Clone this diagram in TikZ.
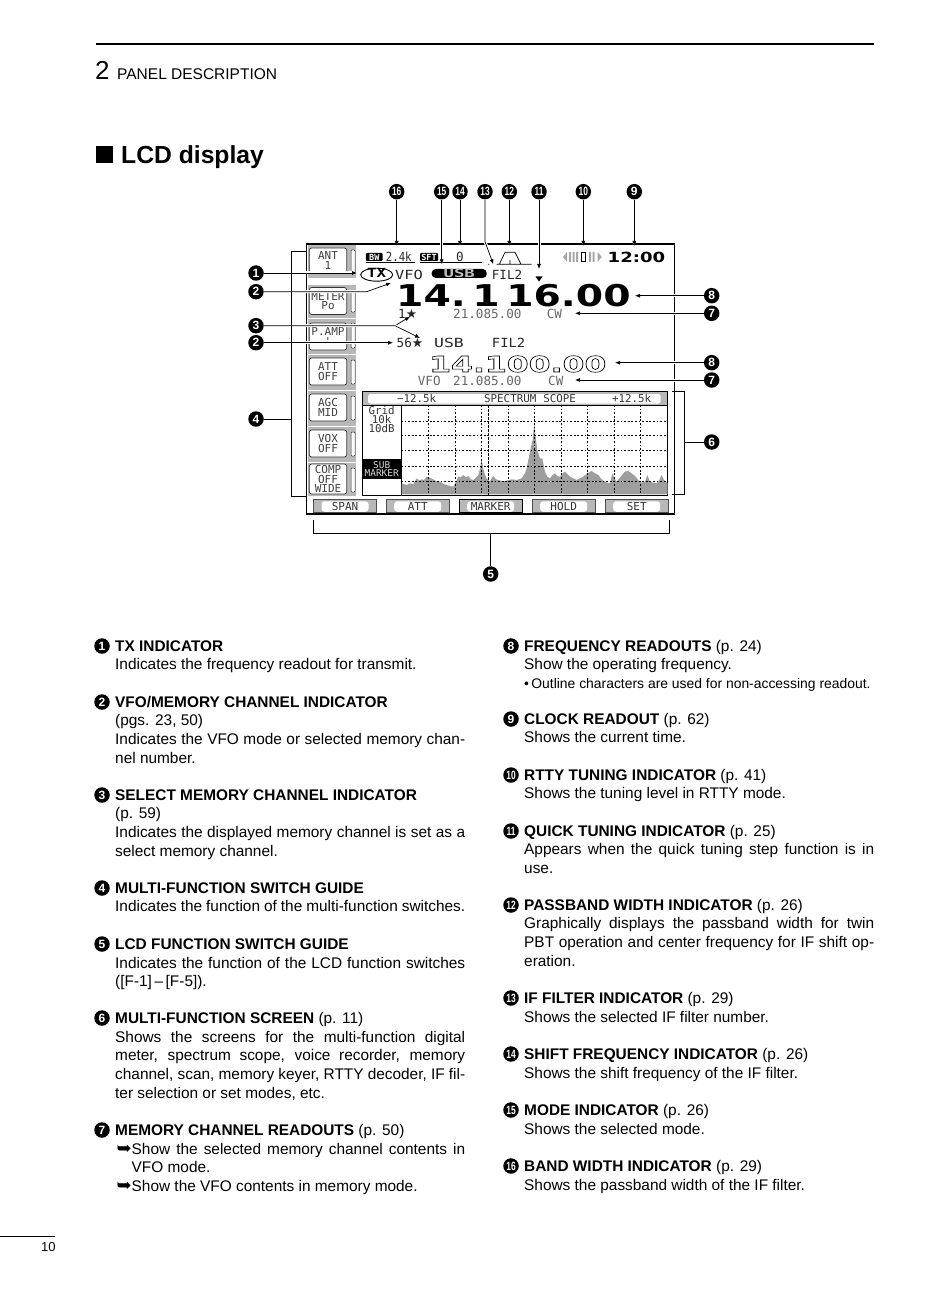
\documentclass[tikz,border=0pt]{standalone}
\usepackage{fontspec}
\setmainfont{Liberation Sans}
\newfontfamily\lcdfont{DejaVu Sans Mono}
\newfontfamily\symfont{DejaVu Sans}
\usetikzlibrary{arrows.meta,shapes.geometric}
\newcommand{\bodysize}{\fontsize{15.4}{18.7}\selectfont}
\newcommand{\hd}[1]{\strut\textbf{#1}}
\newcommand{\outl}[1]{\special{pdf:code 1 Tr 0.55 w}#1\special{pdf:code 0 Tr 1 w}}
\newcommand{\nn}[1]{\scalebox{.7}[1]{#1}}
\newcommand{\hook}{\llap{{\symfont\fontsize{18}{18}\selectfont ➥}}}
\tikzset{
  numdot/.style={circle,fill=black,text=white,inner sep=0pt,minimum size=15.5pt,font=\fontsize{12}{12}\selectfont\bfseries},
  entry/.style={anchor=north west,inner sep=0pt,text width=350pt,align=justify,font=\bodysize},
  leader/.style={draw=black,line width=.7pt,preaction={draw=white,line width=3pt}},
  tip/.style={leader,-{Latex[length=5pt,width=4pt]}},
  softkey/.style={draw=black!80,fill=white,rounded corners=2.5pt,line width=.7pt,minimum width=37.5pt,minimum height=27pt,inner sep=0pt,align=center,text=black!75,font=\lcdfont\fontsize{11}{9.4}\selectfont},
  softback/.style={fill=black!28},
  slot/.style={draw=black!80,fill=white,line width=.5pt,rounded corners=1pt},
  fkey/.style={draw=black!70,fill=black!28,line width=.8pt,minimum width=63pt,minimum height=13.5pt,inner sep=0pt,path picture={\fill[white,rounded corners=3pt] ([xshift=8pt,yshift=-2pt]path picture bounding box.north west) rectangle ([xshift=-8pt,yshift=1pt]path picture bounding box.south east);\node[text=black!80,font=\lcdfont\fontsize{11}{10}\selectfont] at (path picture bounding box.center) {\fkeytext};}},
  lcd/.style={inner sep=0pt,text=black!85,font=\lcdfont\fontsize{12.6}{12.6}\selectfont},
  lcdgray/.style={inner sep=0pt,text=black!60,font=\lcdfont\fontsize{12.6}{12.6}\selectfont},
  tiny/.style={inner sep=0pt,text=black!80,font=\lcdfont\fontsize{10.8}{8.8}\selectfont,align=center},
  griddash/.style={draw=black,line width=.7pt,dash pattern=on 1.8pt off 1.8pt}
}
\newcommand{\fkeytext}{}
\begin{document}
\begin{tikzpicture}[x=1pt,y=-1pt]
\useasboundingbox (0,0) rectangle (950,1305);
\draw[line width=2pt] (96,44)--(874,44);
\node[anchor=base west,inner sep=0pt,font=\fontsize{26}{26}\selectfont] (chapnum) at (95,80) {2};
\node[anchor=base west,inner sep=0pt,font=\fontsize{15.5}{15.5}\selectfont] (chaptitle) at (117,79.5) {PANEL DESCRIPTION};
\fill (96,146) rectangle (113,163);
\node[anchor=base west,inner sep=0pt,font=\fontsize{24.7}{25}\selectfont\bfseries] (secttitle) at (121,164) {LCD display};
\draw[line width=.6pt] (0,1236)--(55,1236);
\node[anchor=base west,inner sep=0pt,font=\fontsize{13}{13}\selectfont] (pagenum) at (41,1251) {10};

\fill[softback] (307.7,245) rectangle (355.7,278);
\fill[softback] (307.7,285) rectangle (355.7,318);
\fill[softback] (307.7,319) rectangle (355.7,354);
\fill[softback] (307.7,355) rectangle (355.7,390);
\fill[softback] (307.7,391) rectangle (355.7,426);
\fill[softback] (307.7,427) rectangle (355.7,462);
\fill[softback] (307.7,463) rectangle (355.7,496);
\draw[slot] (351,250) rectangle (355,273) (351,291) rectangle (355,312) (351,323) rectangle (355,348) (351,360) rectangle (355,384) (351,396) rectangle (355,420) (351,432) rectangle (355,456) (351,468) rectangle (355,492);
\node[softkey,minimum height=25pt] (keyant) at (328,260.5) {ANT\\1};
\node[softkey] (keymeter) at (328,301) {METER\\Po};
\node[softkey] (keyamp) at (328,336.5) {P.AMP\\\textquotesingle};
\node[softkey] (keyatt) at (328,371.5) {ATT\\OFF};
\node[softkey] (keyagc) at (328,407.5) {AGC\\MID};
\node[softkey] (keyvox) at (328,443.5) {VOX\\OFF};
\node[softkey,minimum height=30pt] (keycomp) at (328,479) {COMP\\OFF\\WIDE};

\draw[line width=1.5pt] (306.7,244) rectangle (674.3,514);

\node[fill=black,text=white,inner sep=0pt,minimum width=16.7pt,minimum height=8pt,rounded corners=1pt,font=\lcdfont\bfseries\fontsize{8.5}{8}\selectfont] (bwtag) at (374.3,257) {BW};
\node[lcd,anchor=west] (bwval) at (385.7,257) {\scalebox{.85}[1]{2.4k}};
\node[fill=black,text=white,inner sep=0pt,minimum width=18pt,minimum height=8pt,rounded corners=1pt,font=\lcdfont\bfseries\fontsize{8.5}{8}\selectfont] (sfttag) at (429,257) {SFT};
\node[lcd] (sftval) at (460,257) {0};
\draw[line width=.7pt] (366,262.3)--(415,262.3) (420,262.3)--(481.7,262.3);
\draw[line width=.7pt] (488,264.3)--(489,264.3) (496.7,264.3)--(531.7,264.3) (499.3,264.3)--(505,252.3)--(515,252.3)--(521,264.3) (510,260)--(510,264.3);
\fill[black!35] (563,257)--(567,252)--(567,262)--cycle (597.5,252)--(601.7,257)--(597.5,262)--cycle;
\fill[black!35] (569,252) rectangle (571,262) (572.5,252) rectangle (574.5,262) (576,252) rectangle (578,262) (589,252) rectangle (591,262) (592.5,252) rectangle (594.5,262);
\draw[line width=.8pt,fill=white] (581.5,252.5) rectangle (585,261.5);
\node[inner sep=0pt,anchor=west,font=\symfont\bfseries\fontsize{14}{14}\selectfont] (clock) at (607.5,257) {\scalebox{1.29}[1]{12:00}};

\node[draw,ellipse,minimum width=32pt,minimum height=13pt,inner sep=0pt,line width=.9pt,text height=6pt,text depth=0pt,font=\lcdfont\bfseries\fontsize{12.6}{12}\selectfont] (txmark) at (376.7,274.7) {\scalebox{1.25}[1]{TX}};
\node[lcd,anchor=west] (vfomark) at (395,275) {\scalebox{1.22}[1]{VFO}};
\node[fill=black,text=black!25,rounded corners=4pt,inner sep=0pt,minimum width=55pt,minimum height=9pt,font=\lcdfont\bfseries\fontsize{11.5}{9}\selectfont] (modemark) at (459.2,273.5) {\scalebox{1.5}[1]{USB}};
\node[lcd,anchor=west] (filmark) at (491.7,274.5) {FIL2};
\node[inner sep=0pt,anchor=west,font=\symfont\bfseries\fontsize{30}{30}\selectfont] (mainfreq) at (396,295.5) {\scalebox{1.31}[1]{14.\,1\,16.00}};
\node[lcd,anchor=west] (memone) at (398,314.3) {1{\symfont ★}};
\node[lcdgray,anchor=west] (subfreqa) at (453,314) {21.085.00};
\node[lcdgray,anchor=west] (submodea) at (546.7,314) {CW};
\node[lcd,anchor=west] (memtwo) at (396.5,343) {56{\symfont ★}};
\node[lcd,anchor=west] (usbb) at (434,343) {\scalebox{1.3}[1]{USB}};
\node[lcd,anchor=west] (filb) at (491.7,343) {\scalebox{1.1}[1]{FIL2}};
\node[inner sep=0pt,anchor=west,font=\symfont\bfseries\fontsize{22}{22}\selectfont] (subfreq) at (429,364) {\scalebox{1.43}[1]{\outl{14.100.00}}};
\node[lcdgray,anchor=west] (vfob) at (417.7,380.5) {VFO};
\node[lcdgray,anchor=west] (subfreqb) at (453,380.5) {21.085.00};
\node[lcdgray,anchor=west] (submodeb) at (548,380.5) {CW};

\fill[black!28] (362.3,391.7) rectangle (667.7,405);
\fill[white,rounded corners=2.5pt] (368,394) rectangle (660.7,403.5);
\draw[line width=.8pt] (362.3,391.7) rectangle (667.7,495) (362.3,405)--(667.7,405) (401,405)--(401,495);
\node[tiny] (scopelo) at (416.7,398.5) {−12.5k};
\node[tiny] (scopetitle) at (530,398.5) {SPECTRUM\hspace{7pt}SCOPE};
\node[tiny] (scopehi) at (631.7,398.5) {+12.5k};
\node[tiny] (gridtxt) at (381.7,419.5) {Grid\\10k\\10dB};
\node[fill=black,text=black!15,font=\lcdfont\fontsize{9.4}{8.8}\selectfont,align=center,inner sep=0pt,minimum width=38.5pt,minimum height=20.6pt] (subtag) at (381.7,469) {SUB\\MARKER};
\begin{scope}[shift={(240,340)},x=.3333pt,y=-.3333pt]
\fill[black!38] (485,463)--(485,430)--(500,435)--(510,430)--(520,432)--(530,415)--(538,422)--(545,418)--(552,420)--(560,410)--(570,414)--(580,418)--(590,425)--(600,425)--(612,432)--(620,435)--(630,438)--(640,440)--(648,425)--(655,410)--(662,412)--(670,405)--(678,412)--(685,408)--(692,418)--(700,420)--(708,412)--(715,405)--(720,385)--(725,360)--(730,385)--(735,405)--(742,418)--(750,425)--(755,415)--(760,408)--(768,418)--(775,420)--(788,424)--(800,422)--(815,418)--(830,420)--(845,415)--(855,400)--(860,385)--(865,360)--(870,335)--(878,300)--(883,250)--(888,300)--(892,330)--(900,355)--(907,355)--(915,395)--(922,410)--(930,415)--(938,405)--(945,400)--(952,408)--(960,410)--(968,400)--(975,395)--(982,402)--(990,410)--(1000,415)--(1010,420)--(1020,415)--(1030,410)--(1042,400)--(1055,393)--(1065,400)--(1075,405)--(1085,418)--(1095,425)--(1102,428)--(1110,430)--(1114,412)--(1118,400)--(1124,415)--(1130,425)--(1142,410)--(1155,395)--(1165,393)--(1175,400)--(1185,408)--(1195,420)--(1205,428)--(1215,425)--(1222,405)--(1230,425)--(1240,428)--(1250,430)--(1258,420)--(1265,405)--(1272,420)--(1283,430)--(1283,463)--cycle;
\end{scope}
\path[griddash] (401,421)--(667,421) (401,435.7)--(667,435.7) (401,450.7)--(667,450.7) (401,466)--(667,466) (401,481)--(667,481);
\path[griddash] (428.3,405)--(428.3,495) (455,405)--(455,495) (481.7,405)--(481.7,495) (508.3,405)--(508.3,495) (534.3,405)--(534.3,495) (561.7,405)--(561.7,495) (587.3,405)--(587.3,495) (614,405)--(614,495) (640.7,405)--(640.7,495);
\draw[line width=.8pt,dash pattern=on 3pt off 1pt] (488.3,405)--(488.3,495);

\renewcommand{\fkeytext}{SPAN}
\node[fkey] (fone) at (345,506) {};
\renewcommand{\fkeytext}{ATT}
\node[fkey] (ftwo) at (417.7,506) {};
\renewcommand{\fkeytext}{MARKER}
\node[fkey,draw=black] (fthree) at (490.7,506) {};
\renewcommand{\fkeytext}{HOLD}
\node[fkey] (ffour) at (563.7,506) {};
\renewcommand{\fkeytext}{SET}
\node[fkey] (ffive) at (636.7,506) {};

\node[numdot] (n16) at (396.7,191.7) {\nn{16}};
\node[numdot] (n15) at (441.7,191.7) {\nn{15}};
\node[numdot] (n14) at (460,191.7) {\nn{14}};
\node[numdot] (n13) at (485,191.7) {\nn{13}};
\node[numdot] (n12) at (509.3,191.7) {\nn{12}};
\node[numdot] (n11) at (539,191.7) {\nn{11}};
\node[numdot] (n10) at (583.3,191.7) {\nn{10}};
\node[numdot] (n9) at (634.3,191.7) {9};
\node[numdot] (n1) at (256,273) {1};
\node[numdot] (n2a) at (256,291.7) {2};
\node[numdot] (n3) at (256,325.7) {3};
\node[numdot] (n2b) at (256,342.7) {2};
\node[numdot] (n4) at (256,419) {4};
\node[numdot] (n8a) at (711.7,295.7) {8};
\node[numdot] (n7a) at (711.7,313.3) {7};
\node[numdot] (n8b) at (711.7,362.7) {8};
\node[numdot] (n7b) at (711.7,380) {7};
\node[numdot] (n6) at (711.7,442) {6};
\node[numdot] (n5) at (490.7,574) {5};

\coordinate (t16) at (396.7,246);
\coordinate (t15) at (441.7,264.3);
\coordinate (t14) at (460,246);
\coordinate (b13) at (485,241.7);
\coordinate (t13) at (493.3,264.3);
\coordinate (t12) at (509.3,246);
\coordinate (t11) at (539,269);
\coordinate (t10) at (583.3,246);
\coordinate (t9) at (634.3,246);
\coordinate (t1) at (357,273);
\coordinate (b2a) at (366.7,291.7);
\coordinate (t2a) at (391,283);
\coordinate (b3) at (395,325.7);
\coordinate (t3a) at (410,316.7);
\coordinate (t3b) at (420,338);
\coordinate (t2b) at (393,342.7);
\coordinate (t8a) at (635,295.7);
\coordinate (t7a) at (575,313.3);
\coordinate (t8b) at (615,362.7);
\coordinate (t7b) at (575,380);
\coordinate (b4) at (291.7,419);
\coordinate (b6) at (684,442);
\coordinate (b5) at (490.7,533.3);

\path[tip] (n16)--(t16);
\path[tip] (n15)--(t15);
\path[tip] (n14)--(t14);
\path[tip] (n13)--(b13)--(t13);
\path[tip] (n12)--(t12);
\path[tip] (n11)--(t11);
\path[tip] (n10)--(t10);
\path[tip] (n9)--(t9);
\path[tip] (n1)--(t1);
\path[tip] (n2a)--(b2a)--(t2a);
\path[tip] (n3)--(b3)--(t3a);
\path[tip] (b3)--(t3b);
\path[tip] (n2b)--(t2b);
\path[tip] (n8a)--(t8a);
\path[tip] (n7a)--(t7a);
\path[tip] (n8b)--(t8b);
\path[tip] (n7b)--(t7b);
\fill (535.5,276.5)--(542.5,276.5)--(539,281.5)--cycle;
\draw[line width=.7pt] (n4)--(b4) (306,251.7)--(291.7,251.7)--(291.7,496.7)--(306,496.7);
\draw[line width=.7pt] (n6)--(b6) (672,391.7)--(684,391.7)--(684,494)--(672,494);
\draw[line width=.7pt] (n5)--(b5) (313.3,520)--(313.3,533.3)--(669,533.3)--(669,520);

\node[numdot] (d1) at (102,646) {1};
\node[entry] (desc1) at (115,638) {\hd{TX INDICATOR}\\Indicates the frequency readout for transmit.};
\node[numdot] (d2) at (102,702) {2};
\node[entry] (desc2) at (115,694) {\hd{VFO/MEMORY CHANNEL INDICATOR}\\(pgs. 23, 50)\\Indicates the VFO mode or selected memory chan-\linebreak nel number.};
\node[numdot] (d3) at (102,795) {3};
\node[entry] (desc3) at (115,787) {\hd{SELECT MEMORY CHANNEL INDICATOR}\\(p. 59)\\Indicates the displayed memory channel is set as a\linebreak select memory channel.};
\node[numdot] (d4) at (102,888) {4};
\node[entry] (desc4) at (115,880) {\hd{MULTI-FUNCTION SWITCH GUIDE}\\Indicates the function of the multi-function switches.};
\node[numdot] (d5) at (102,944) {5};
\node[entry] (desc5) at (115,936) {\hd{LCD FUNCTION SWITCH GUIDE}\\Indicates the function of the LCD function switches\linebreak ([F-1]\,–\,[F-5]).};
\node[numdot] (d6) at (102,1018) {6};
\node[entry] (desc6) at (115,1010) {\hd{MULTI-FUNCTION SCREEN} (p. 11)\\Shows the screens for the multi-function digital\linebreak meter, spectrum scope, voice recorder, memory\linebreak channel, scan, memory keyer, RTTY decoder, IF fil-\linebreak ter selection or set modes, etc.};
\node[numdot] (d7) at (102,1130) {7};
\node[entry] (desc7) at (115,1122) {\hd{MEMORY CHANNEL READOUTS} (p. 50)\par\leftskip=16.5pt\noindent\hook Show the selected memory channel contents in\linebreak VFO mode.\par\noindent\hook Show the VFO contents in memory mode.\par};

\node[numdot] (d8) at (511,646) {8};
\node[entry] (desc8) at (524,638) {\hd{FREQUENCY READOUTS} (p. 24)\\Show the operating frequency.\\{\fontsize{13.9}{18.7}\selectfont\textbullet\,Outline characters are used for non-accessing readout.}};
\node[numdot] (d9) at (511,719) {9};
\node[entry] (desc9) at (524,711) {\hd{CLOCK READOUT} (p. 62)\\Shows the current time.};
\node[numdot] (d10) at (511,775) {\nn{10}};
\node[entry] (desc10) at (524,767) {\hd{RTTY TUNING INDICATOR} (p. 41)\\Shows the tuning level in RTTY mode.};
\node[numdot] (d11) at (511,831) {\nn{11}};
\node[entry] (desc11) at (524,823) {\hd{QUICK TUNING INDICATOR} (p. 25)\\Appears when the quick tuning step function is in\linebreak use.};
\node[numdot] (d12) at (511,905) {\nn{12}};
\node[entry] (desc12) at (524,897) {\hd{PASSBAND WIDTH INDICATOR} (p. 26)\\Graphically displays the passband width for twin\linebreak PBT operation and center frequency for IF shift op-\linebreak eration.};
\node[numdot] (d13) at (511,998) {\nn{13}};
\node[entry] (desc13) at (524,990) {\hd{IF FILTER INDICATOR} (p. 29)\\Shows the selected IF filter number.};
\node[numdot] (d14) at (511,1054) {\nn{14}};
\node[entry] (desc14) at (524,1046) {\hd{SHIFT FREQUENCY INDICATOR} (p. 26)\\Shows the shift frequency of the IF filter.};
\node[numdot] (d15) at (511,1110) {\nn{15}};
\node[entry] (desc15) at (524,1102) {\hd{MODE INDICATOR} (p. 26)\\Shows the selected mode.};
\node[numdot] (d16) at (511,1166) {\nn{16}};
\node[entry] (desc16) at (524,1158) {\hd{BAND WIDTH INDICATOR} (p. 29)\\Shows the passband width of the IF filter.};
\end{tikzpicture}
\end{document}
